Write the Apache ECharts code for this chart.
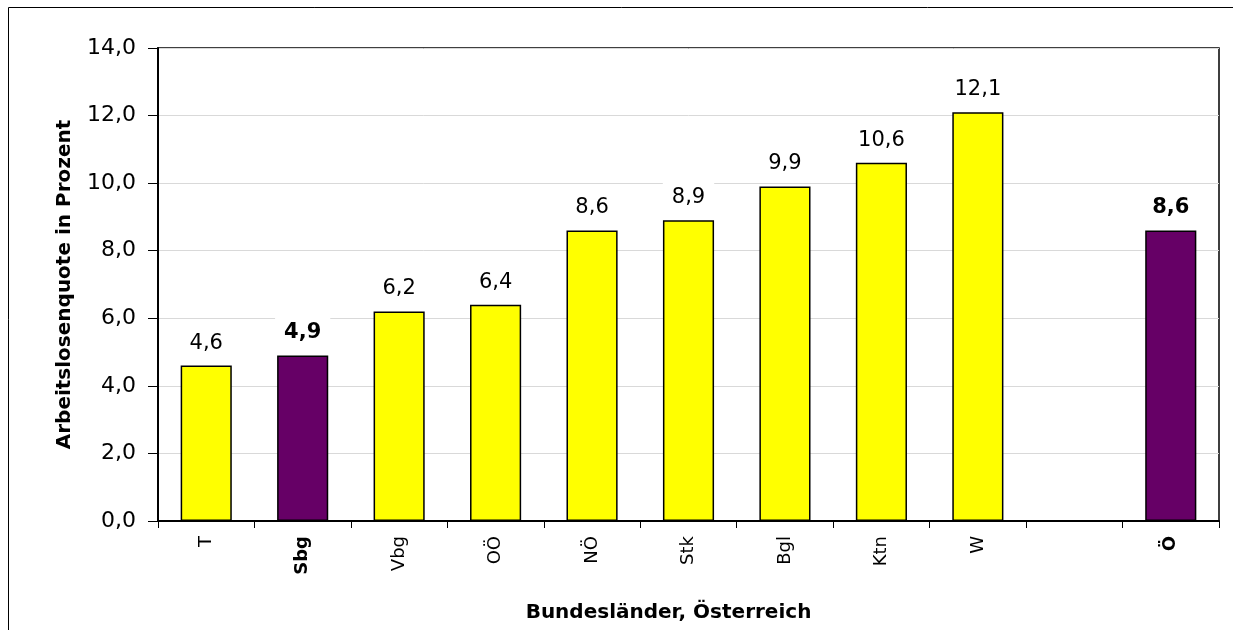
<!DOCTYPE html>
<html><head><meta charset="utf-8">
<script src="https://cdn.jsdelivr.net/npm/echarts@6/dist/echarts.min.js"></script>
<style>html,body{margin:0;padding:0;background:#fff}#c{width:1233px;height:630px}</style>
</head><body><div id="c"></div>
<script>
const categories = ['T','Sbg','Vbg','OÖ','NÖ','Stk','Bgl','Ktn','W','','Ö'];
const values = [4.6,4.9,6.2,6.4,8.6,8.9,9.9,10.6,12.1,null,8.6];
const highlighted = ['Sbg','Ö'];
const yTicks = [0,2,4,6,8,10,12,14];

const FONT = '"DejaVu Sans", sans-serif';
const chart = echarts.init(document.getElementById('c'));
const fmt = v => v.toFixed(1).replace('.', ',');
chart.setOption({
  animation:false,
  backgroundColor:'#fff',
  graphic:[{type:'rect',shape:{x:8.5,y:7.5,width:1240,height:640},style:{fill:'none',stroke:'#000',lineWidth:1},z:-1}],
  grid:{left:158,right:14,top:48,bottom:109,show:true,borderColor:'#000',borderWidth:1.5,backgroundColor:'transparent'},
  xAxis:{type:'category',data:categories,
    axisLine:{lineStyle:{color:'#000',width:2}},
    axisTick:{show:true,alignWithLabel:false,length:7,lineStyle:{color:'#000',width:1}},
    axisLabel:{rotate:90,fontFamily:FONT,fontSize:18,color:'#000',margin:15,interval:0,
      formatter:v=>highlighted.includes(v)?'{b|'+v+'}':v,rich:{b:{fontWeight:'bold',fontFamily:FONT,fontSize:18}}},
    name:'Bundesländer, Österreich',nameLocation:'middle',nameGap:82,
    nameTextStyle:{fontFamily:FONT,fontSize:20,fontWeight:'bold',color:'#000',padding:[0,40,0,0]}},
  yAxis:{type:'value',min:0,max:14,interval:2,
    axisLine:{show:true,lineStyle:{color:'#000',width:2}},
    axisTick:{show:true,length:10,lineStyle:{color:'#000'}},
    splitLine:{lineStyle:{color:'#d9d9d9',width:1}},
    axisLabel:{fontFamily:FONT,fontSize:22,color:'#000',margin:22,formatter:v=>fmt(v)},
    name:'Arbeitslosenquote in Prozent',nameLocation:'middle',nameGap:83,
    nameTextStyle:{fontFamily:FONT,fontSize:20,fontWeight:'bold',color:'#000'}},
  series:[{type:'bar',barCategoryGap:'47%',
    data:values.map((v,i)=>{
      if(v===null) return null;
      const h = highlighted.includes(categories[i]);
      return {value:v,itemStyle:{color:h?'#660066':'#ffff00',borderColor:'#000',borderWidth:1.5},
        label:{fontWeight:h?'bold':'normal'}};
    }),
    label:{show:true,position:'top',distance:11,fontFamily:FONT,fontSize:21,color:'#000',
      backgroundColor:'#fff',padding:[5,9,1,9],formatter:p=>fmt(p.value)}
  }]
});
</script></body></html>
